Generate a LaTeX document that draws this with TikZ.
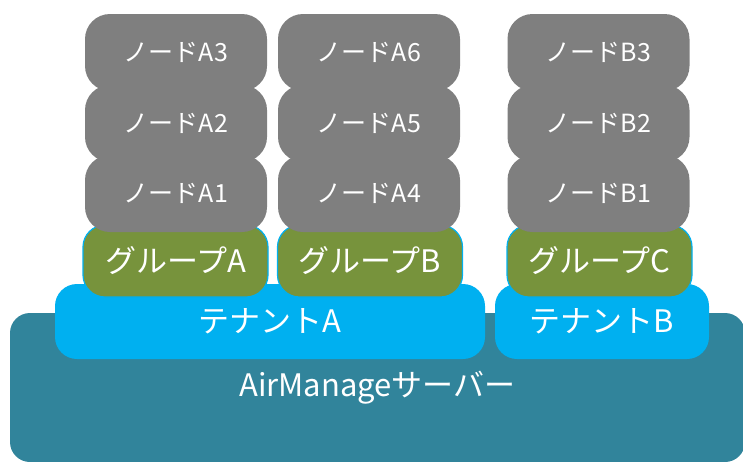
\documentclass[tikz,border=0pt]{standalone}
\usepackage{fontspec}
\setmainfont{Noto Sans CJK JP}

\definecolor{nodegray}{HTML}{7F7F7F}
\definecolor{groupgreen}{HTML}{77933C}
\definecolor{tenantblue}{HTML}{00B0F0}
\definecolor{serverteal}{HTML}{31849B}

\begin{document}
\begin{tikzpicture}
[
	x=1pt,y=-1pt,
	box/.style={rectangle,inner sep=0pt,text=white,align=center},
	serverbox/.style={box,fill=serverteal,rounded corners=20pt,minimum width=735pt,minimum height=149pt,font=\fontsize{31}{31}\selectfont},
	tenantbox/.style={box,fill=tenantblue,rounded corners=22pt,minimum height=75pt,font=\fontsize{31}{31}\selectfont},
	groupbox/.style={box,fill=groupgreen,draw=tenantblue,line width=1.2pt,rounded corners=22pt,minimum width=185pt,minimum height=72pt,font=\fontsize{31}{31}\selectfont},
	nodebox/.style={box,fill=nodegray,rounded corners=25pt,minimum width=182pt,minimum height=77pt,font=\fontsize{25}{25}\selectfont}
]

	\useasboundingbox (0,0) rectangle (743,461);

	% server
	\node[serverbox] (srv) at (377.5,387.5) {AirManageサーバー};

	% tenants
	\node[tenantbox,minimum width=430pt] (tA) at (270,321.5) {テナントA};
	\node[tenantbox,minimum width=214pt] (tB) at (602,321.5) {テナントB};

	% groups
	\node[groupbox] (gA) at (175.5,261) {グループA};
	\node[groupbox] (gB) at (370,261) {グループB};
	\node[groupbox] (gC) at (599.5,261) {グループC};

	% nodes
	\foreach \col/\x/\a/\b/\c in {A/176/A1/A2/A3, B/369/A4/A5/A6, C/598.5/B1/B2/B3}
	{
		\node[nodebox] (n\a) at (\x,193.5) {ノード\a};
		\node[nodebox] (n\b) at (\x,123.5) {ノード\b};
		\node[nodebox] (n\c) at (\x,52.5) {ノード\c};
	}

\end{tikzpicture}
\end{document}
